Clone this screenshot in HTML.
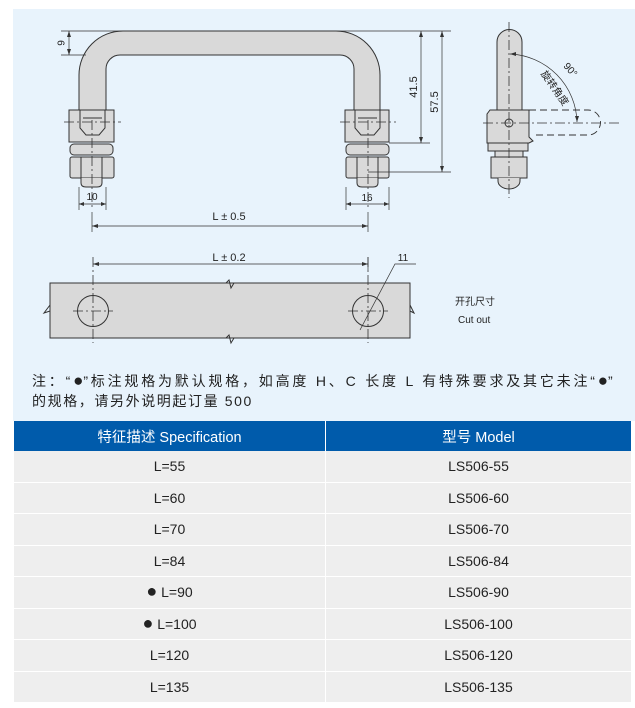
<!DOCTYPE html>
<html><head><meta charset="utf-8"><style>
html,body{margin:0;padding:0;background:#fff;}
body{width:635px;height:708px;position:relative;overflow:hidden;font-family:"Liberation Sans","Noto Sans CJK SC",sans-serif;}
.bg{position:absolute;left:13px;top:9px;width:622px;height:412px;background:#e8f3fc;}
svg{position:absolute;left:0;top:0;}
.note{position:absolute;left:32px;top:371px;font-size:14px;color:#222;line-height:20px;width:603px;letter-spacing:1.6px;white-space:nowrap;}
.l1{letter-spacing:2.8px;}
.b{font-size:17px;letter-spacing:0;line-height:10px;}
table{position:absolute;left:14px;top:421px;width:618px;border-collapse:collapse;font-size:14px;color:#222;}
th{background:#005bab;color:#fff;font-weight:normal;height:28px;font-size:14.5px;border-right:1px solid #fff;}
td{background:#eeeeee;height:30.5px;text-align:center;border-bottom:1px solid #fff;border-right:1px solid #fff;padding:0;line-height:16px;}
.tb{font-size:18px;line-height:10px;}
</style></head><body>
<div class="bg"></div>
<svg width="635" height="420" viewBox="0 0 635 420" font-family="Liberation Sans, Noto Sans CJK SC, sans-serif" font-size="10" fill="#222">
<g stroke="#333" stroke-width="1" fill="#d9d9d9">
<path d="M79,110 L79,75 A44,44 0 0 1 123,31 L336,31 A44,44 0 0 1 380,75 L380,110 L354,110 L354,69 A14,14 0 0 0 340,55 L120,55 A14,14 0 0 0 106,69 L106,110 Z"/>
<rect x="69" y="110" width="45" height="32"/>
<path d="M80,110 L80,128 L86,135 L99,135 L105,128 L105,110" fill="none"/>
<path d="M83,118 L102,118" fill="none"/>
<rect x="70" y="144" width="43" height="11" rx="4"/>
<rect x="70" y="157" width="44" height="21" rx="2"/>
<path d="M81,157 V178 M102,157 V178" fill="none"/>
<path d="M81,178 L81,183 Q81,187 86,187 L97,187 Q102,187 102,183 L102,178"/>
<rect x="345" y="110" width="44" height="32"/>
<path d="M355,110 L355,128 L361,135 L374,135 L380,128 L380,110" fill="none"/>
<path d="M358,118 L377,118" fill="none"/>
<rect x="346" y="144" width="43" height="11" rx="4"/>
<rect x="346" y="157" width="43" height="21" rx="2"/>
<path d="M357,157 V178 M378,157 V178" fill="none"/>
<path d="M357,178 L357,183 Q357,187 362,187 L373,187 Q378,187 378,183 L378,178"/>
<path d="M497,110 L497,42 A12.5,12.5 0 0 1 522,42 L522,110 Z"/>
<path d="M487,114 L490,110 L529,110 L529,137 L533,141 L529,143 L487,143 Z"/>
<circle cx="509" cy="123" r="4"/>
<rect x="488" y="143" width="40" height="8"/>
<rect x="495" y="151" width="28" height="6"/>
<rect x="491" y="157" width="36" height="21"/>
<path d="M498,178 L498,181 A11,8 0 0 0 520,181 L520,178"/>
<rect x="50" y="283" width="360" height="55"/>
<circle cx="93" cy="311" r="15.5"/>
<circle cx="368" cy="311" r="15.5"/>
</g>
<g stroke="#333" stroke-width="1" fill="none">
<path d="M226,283 L229,280 L231,288 L234,283"/>
<path d="M226,338 L229,335 L231,343 L234,338"/>
<path d="M50,305 L44,313 L50,311"/>
<path d="M410,305 L414,313 L410,311"/>
</g>
<g stroke="#333" stroke-width="0.8" stroke-dasharray="10,3,2,3" fill="none">
<path d="M92,120 V210 M64,122 H121"/>
<path d="M368,120 V210 M340,122 H396"/>
<path d="M509,22 V198 M483,123 H620"/>
<path d="M93,257 V343 M73,311 H113"/>
<path d="M368,257 V343 M348,311 H388"/>
</g>
<path d="M529,110 H588 A12.5,12.5 0 0 1 588,135 H535" stroke="#333" stroke-width="0.9" stroke-dasharray="7,4" fill="none"/>
<g stroke="#333" stroke-width="0.7" fill="none">
<path d="M61,31 H451 M61,55 H86 M69,31 V55"/>
<path d="M389,143 H430 M421,31 V143"/>
<path d="M368,172 H451 M442,31 V172"/>
<path d="M79,187 V210 M106,187 V210 M79,204 H106"/>
<path d="M346,187 V210 M389,187 V210 M346,204 H389"/>
<path d="M92,212 V232 M368,212 V232 M92,226 H368"/>
<path d="M93,264 H368 M368,257 V270"/>
<path d="M360,330 L395,264 H416"/>
<path d="M510,54 A70,70 0 0 1 577,122"/>
</g>
<g fill="#333">
<path d="M69,31 l-2,6 h4z M69,55 l-2,-6 h4z"/>
<path d="M421,31 l-2,6 h4z M421,143 l-2,-6 h4z"/>
<path d="M442,31 l-2,6 h4z M442,172 l-2,-6 h4z"/>
<path d="M92,226 l6,-2 v4z M368,226 l-6,-2 v4z"/>
<path d="M93,264 l6,-2 v4z M368,264 l-6,-2 v4z"/>
<path d="M79,204 l5,-2 v4z M106,204 l-5,-2 v4z"/>
<path d="M346,204 l5,-2 v4z M389,204 l-5,-2 v4z"/>
<path d="M510,54 l6,-2 v4z M577,122 l-2,-6 h4z"/>
</g>
<text x="62" y="43" text-anchor="middle" transform="rotate(-90 62 43)" dominant-baseline="middle">9</text>
<text x="414" y="87" text-anchor="middle" transform="rotate(-90 414 87)" dominant-baseline="middle" font-size="11">41.5</text>
<text x="435" y="102" text-anchor="middle" transform="rotate(-90 435 102)" dominant-baseline="middle" font-size="11">57.5</text>
<text x="92" y="200" text-anchor="middle">10</text>
<text x="367" y="201" text-anchor="middle">16</text>
<text x="229" y="220" text-anchor="middle" font-size="11">L ± 0.5</text>
<text x="229" y="261" text-anchor="middle" font-size="11">L ± 0.2</text>
<text x="403" y="261" text-anchor="middle">11</text>
<text x="568" y="72" text-anchor="middle" transform="rotate(48 568 72)">90°</text>
<text x="552" y="90" text-anchor="middle" transform="rotate(55 552 90)">旋转角度</text>
<text x="455" y="305" font-size="10">开孔尺寸</text>
<text x="458" y="323" font-size="10">Cut out</text>
</svg>
<div class="note"><span class="l1">注：“<span class="b">●</span>”标注规格为默认规格，如高度 H、C 长度 L 有特殊要求及其它未注“<span class="b">●</span>”</span><br>的规格，请另外说明起订量 500</div>
<table>
<tr><th style="width:309px">特征描述 Specification</th><th>型号 Model</th></tr>
<tr><td>L=55</td><td>LS506-55</td></tr>
<tr><td>L=60</td><td>LS506-60</td></tr>
<tr><td>L=70</td><td>LS506-70</td></tr>
<tr><td>L=84</td><td>LS506-84</td></tr>
<tr><td><span class="tb">●</span> L=90</td><td>LS506-90</td></tr>
<tr><td><span class="tb">●</span> L=100</td><td>LS506-100</td></tr>
<tr><td>L=120</td><td>LS506-120</td></tr>
<tr><td>L=135</td><td>LS506-135</td></tr>
</table>
</body></html>
